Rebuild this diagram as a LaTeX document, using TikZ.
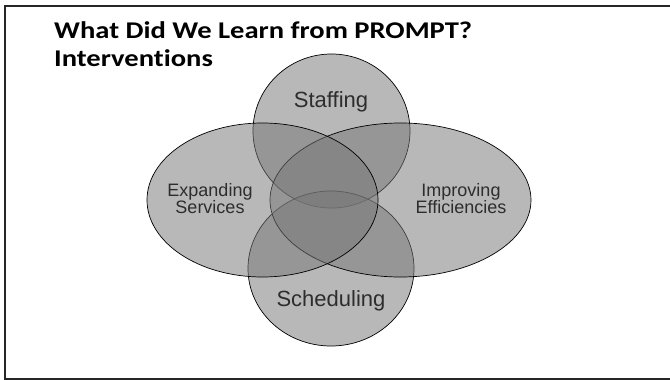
\documentclass[tikz,border=0pt]{standalone}
\usepackage{fontspec}
\usepackage{tikz}
\usetikzlibrary{positioning}
\newfontfamily\headfont{Carlito}[FakeStretch=1.19,Ligatures=NoCommon]
\newfontfamily\vennfont{Liberation Sans}
\definecolor{venngray}{RGB}{119,119,119}
\definecolor{labelgray}{RGB}{45,45,45}

\begin{document}
\begin{tikzpicture}[x=1pt,y=-1pt,
  venn/.style={fill=venngray,fill opacity=0.52,draw=black,line width=0.7pt},
  biglabel/.style={font=\vennfont\fontsize{22}{22}\selectfont,text=labelgray,anchor=base,inner sep=0pt},
  smalllabel/.style={font=\vennfont\fontsize{18}{17}\selectfont,text=labelgray,align=center,inner sep=0pt},
  headline/.style={font=\headfont\bfseries\fontsize{24}{24}\selectfont,anchor=base west,inner sep=0pt}]
\useasboundingbox (0,0) rectangle (670,380);
%% Slide frame (right edge runs off the page)
\draw[line width=2pt,black!85] (5,6) rectangle (680,378.5);
%% Title
\node[headline] (title) at (54,38){What Did We Learn from PROMPT?};
\node[headline] (subtitle) at (54,66){Interventions};
%% The four sets
\draw[venn] (331.5,131) ellipse [x radius=78.5,y radius=77];
\draw[venn] (331,268.5) ellipse [x radius=83,y radius=77.5];
\draw[venn] (400.5,200) ellipse [x radius=130.5,y radius=77];
\draw[venn] (262.5,200) ellipse [x radius=115.5,y radius=77];
%% Set labels
\node[biglabel] (staffing) at (331,107){Staffing};
\node[biglabel] (scheduling) at (331,306){Scheduling};
\node[smalllabel] (expanding) at (210,199){Expanding\\Services};
\node[smalllabel] (improving) at (461,199){Improving\\Efficiencies};
\end{tikzpicture}
\end{document}
